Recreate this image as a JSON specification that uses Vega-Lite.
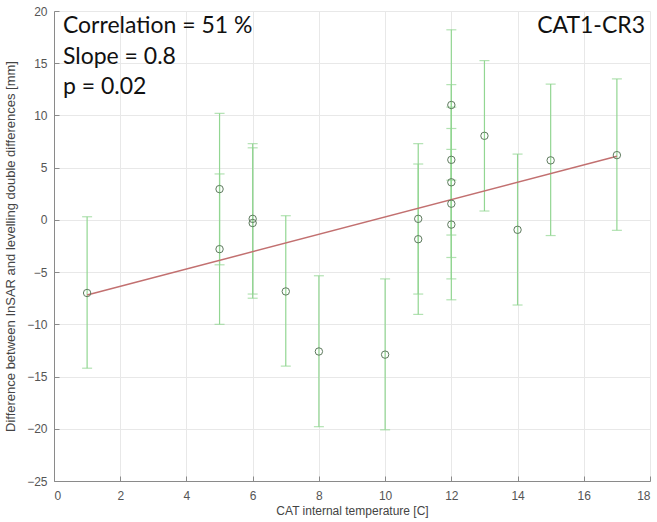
{
  "$schema": "https://vega.github.io/schema/vega-lite/v6.json",
  "autosize": {"type": "none"},
  "padding": {"left": 54, "top": 11, "right": 7, "bottom": 41},
  "width": 596,
  "height": 470,
  "background": "white",
  "config": {
    "view": {"stroke": null},
    "font": "Liberation Sans",
    "axis": {
      "domainColor": "#8a8a8a",
      "tickColor": "#8a8a8a",
      "gridColor": "#e8e8e8",
      "labelColor": "#555555",
      "titleColor": "#444444",
      "labelFont": "Liberation Sans",
      "titleFont": "Liberation Sans",
      "labelFontSize": 12,
      "titleFontSize": 12,
      "titleFontWeight": "normal",
      "tickSize": -5
    }
  },
  "datasets": {
    "pts": [
      {"t": 1, "d": -7.0, "lo": -14.2, "hi": 0.3},
      {"t": 5, "d": 2.95, "lo": -4.3, "hi": 10.2},
      {"t": 5, "d": -2.8, "lo": -10.0, "hi": 4.4},
      {"t": 6, "d": 0.1, "lo": -7.1, "hi": 7.3},
      {"t": 6, "d": -0.3, "lo": -7.5, "hi": 6.9},
      {"t": 7, "d": -6.85, "lo": -14.0, "hi": 0.4},
      {"t": 8, "d": -12.6, "lo": -19.8, "hi": -5.35},
      {"t": 10, "d": -12.9, "lo": -20.1, "hi": -5.65},
      {"t": 11, "d": 0.1, "lo": -7.1, "hi": 7.3},
      {"t": 11, "d": -1.85, "lo": -9.05, "hi": 5.35},
      {"t": 12, "d": 11.0, "lo": 3.8, "hi": 18.2},
      {"t": 12, "d": 5.75, "lo": -1.45, "hi": 12.95},
      {"t": 12, "d": 3.6, "lo": -3.6, "hi": 10.8},
      {"t": 12, "d": 1.55, "lo": -5.65, "hi": 8.75},
      {"t": 12, "d": -0.45, "lo": -7.65, "hi": 6.75},
      {"t": 13, "d": 8.05, "lo": 0.85, "hi": 15.25},
      {"t": 14, "d": -0.95, "lo": -8.15, "hi": 6.3},
      {"t": 15, "d": 5.7, "lo": -1.5, "hi": 13.0},
      {"t": 17, "d": 6.2, "lo": -1.0, "hi": 13.5}
    ],
    "fit": [
      {"t": 1, "d": -7.2},
      {"t": 17, "d": 6.1}
    ],
    "notes": [
      {"t": 0.27, "d": 18.6, "label": "Correlation = 51 %", "side": "left"},
      {"t": 0.27, "d": 15.6, "label": "Slope = 0.8", "side": "left"},
      {"t": 0.27, "d": 12.7, "label": "p = 0.02", "side": "left"},
      {"t": 17.85, "d": 18.6, "label": "CAT1-CR3", "side": "right"}
    ]
  },
  "layer": [
    {
      "data": {"name": "pts"},
      "mark": {"type": "rule", "color": "#92d692", "strokeWidth": 1.2},
      "encoding": {
        "x": {
          "field": "t", "type": "quantitative",
          "scale": {"domain": [0, 18], "nice": false},
          "axis": {
            "values": [0, 2, 4, 6, 8, 10, 12, 14, 16, 18],
            "title": "CAT internal temperature [C]",
            "labelPadding": 14,
            "titlePadding": 4
          }
        },
        "y": {
          "field": "lo", "type": "quantitative",
          "scale": {"domain": [-25, 20], "nice": false},
          "axis": {
            "values": [-25, -20, -15, -10, -5, 0, 5, 10, 15, 20],
            "title": "Difference between InSAR and levelling double differences [mm]",
            "titleFontSize": 13,
            "labelPadding": 12,
            "titlePadding": 9
          }
        },
        "y2": {"field": "hi"}
      }
    },
    {
      "data": {"name": "pts"},
      "mark": {"type": "tick", "orient": "horizontal", "color": "#92d692", "size": 10, "thickness": 1.2},
      "encoding": {
        "x": {"field": "t", "type": "quantitative"},
        "y": {"field": "lo", "type": "quantitative"}
      }
    },
    {
      "data": {"name": "pts"},
      "mark": {"type": "tick", "orient": "horizontal", "color": "#92d692", "size": 10, "thickness": 1.2},
      "encoding": {
        "x": {"field": "t", "type": "quantitative"},
        "y": {"field": "hi", "type": "quantitative"}
      }
    },
    {
      "data": {"name": "fit"},
      "mark": {"type": "line", "color": "#c27070", "strokeWidth": 1.5},
      "encoding": {
        "x": {"field": "t", "type": "quantitative"},
        "y": {"field": "d", "type": "quantitative"}
      }
    },
    {
      "data": {"name": "pts"},
      "mark": {"type": "point", "shape": "circle", "filled": false, "stroke": "#5e7a5e", "strokeWidth": 1, "size": 55, "opacity": 1},
      "encoding": {
        "x": {"field": "t", "type": "quantitative"},
        "y": {"field": "d", "type": "quantitative"}
      }
    },
    {
      "data": {"name": "notes"},
      "transform": [{"filter": "datum.side === 'left'"}],
      "mark": {"type": "text", "align": "left", "baseline": "middle", "font": "Lato", "fontSize": 23, "color": "#111111"},
      "encoding": {
        "x": {"field": "t", "type": "quantitative"},
        "y": {"field": "d", "type": "quantitative"},
        "text": {"field": "label"}
      }
    },
    {
      "data": {"name": "notes"},
      "transform": [{"filter": "datum.side === 'right'"}],
      "mark": {"type": "text", "align": "right", "baseline": "middle", "font": "Lato", "fontSize": 23, "color": "#111111"},
      "encoding": {
        "x": {"field": "t", "type": "quantitative"},
        "y": {"field": "d", "type": "quantitative"},
        "text": {"field": "label"}
      }
    }
  ]
}
